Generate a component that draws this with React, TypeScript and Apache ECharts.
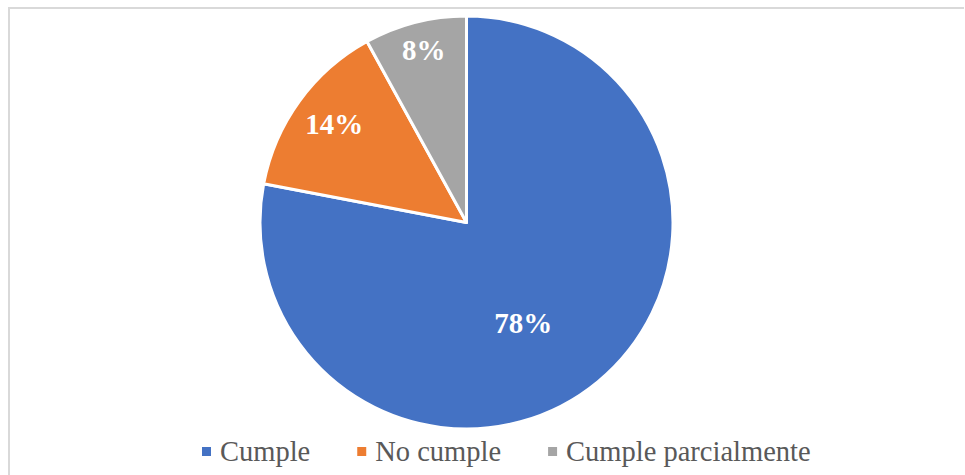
import React, { useEffect, useRef } from "react";
import * as echarts from "echarts";

const categories = ["Cumple", "No cumple", "Cumple parcialmente"];
const values = [78, 14, 8];
const colors = ["#4472C4", "#ED7D31", "#A5A5A5"];

// label placement: fraction of radius and angular tweak (degrees, clockwise)
const labelRadiusFrac = [0.557, 0.797, 0.86];
const labelAngleTweak = [10, 0.6, 0.5];

const CX = 466.5;
const CY = 222.5;
const R = 206.5;
const FONT = "Liberation Serif";

export default function App() {
  const ref = useRef<HTMLDivElement>(null);
  useEffect(() => {
    if (!ref.current) return;
    const chart = echarts.init(ref.current, undefined, { renderer: "svg" });
    const total = values.reduce((a, b) => a + b, 0);
    const cum: number[] = [];
    let acc = 0;
    values.forEach((v) => {
      cum.push(acc);
      acc += v;
    });
    chart.setOption({
      animation: false,
      backgroundColor: "#ffffff",
      legend: {
        left: 195,
        top: 432,
        itemWidth: 11,
        itemHeight: 11,
        itemGap: 45,
        icon: "rect",
        data: categories,
        textStyle: {
          fontFamily: FONT,
          fontSize: 28.5,
          color: "#595959",
          padding: [0, 0, 0, 3],
        },
      },
      graphic: [
        {
          type: "line",
          shape: { x1: 8, y1: 8, x2: 964, y2: 8 },
          style: { stroke: "#d9d9d9", lineWidth: 2 },
        },
        {
          type: "line",
          shape: { x1: 9, y1: 7, x2: 9, y2: 475 },
          style: { stroke: "#d9d9d9", lineWidth: 2 },
        },
      ],
      series: [
        {
          type: "pie",
          center: [CX, CY],
          radius: R,
          startAngle: 90,
          clockwise: true,
          avoidLabelOverlap: false,
          itemStyle: { borderColor: "#ffffff", borderWidth: 3 },
          label: {
            show: true,
            position: "inside",
            formatter: "{d}%",
            fontFamily: FONT,
            fontWeight: "bold",
            fontSize: 29,
            color: "#ffffff",
          },
          labelLine: { show: false },
          emphasis: { disabled: true },
          labelLayout: (params: any) => {
            const i = params.dataIndex;
            const midFrac = (cum[i] + values[i] / 2) / total;
            const ang = ((midFrac * 360 + labelAngleTweak[i]) * Math.PI) / 180;
            const r = R * labelRadiusFrac[i];
            return {
              x: CX + r * Math.sin(ang),
              y: CY - r * Math.cos(ang),
              align: "center",
              verticalAlign: "middle",
            };
          },
          data: categories.map((name, i) => ({
            name,
            value: values[i],
            itemStyle: { color: colors[i] },
          })),
        },
      ],
    });
    return () => chart.dispose();
  }, []);
  return (
    <div
      ref={ref}
      style={{ position: "fixed", left: 0, top: 0, width: 965, height: 475 }}
    />
  );
}
